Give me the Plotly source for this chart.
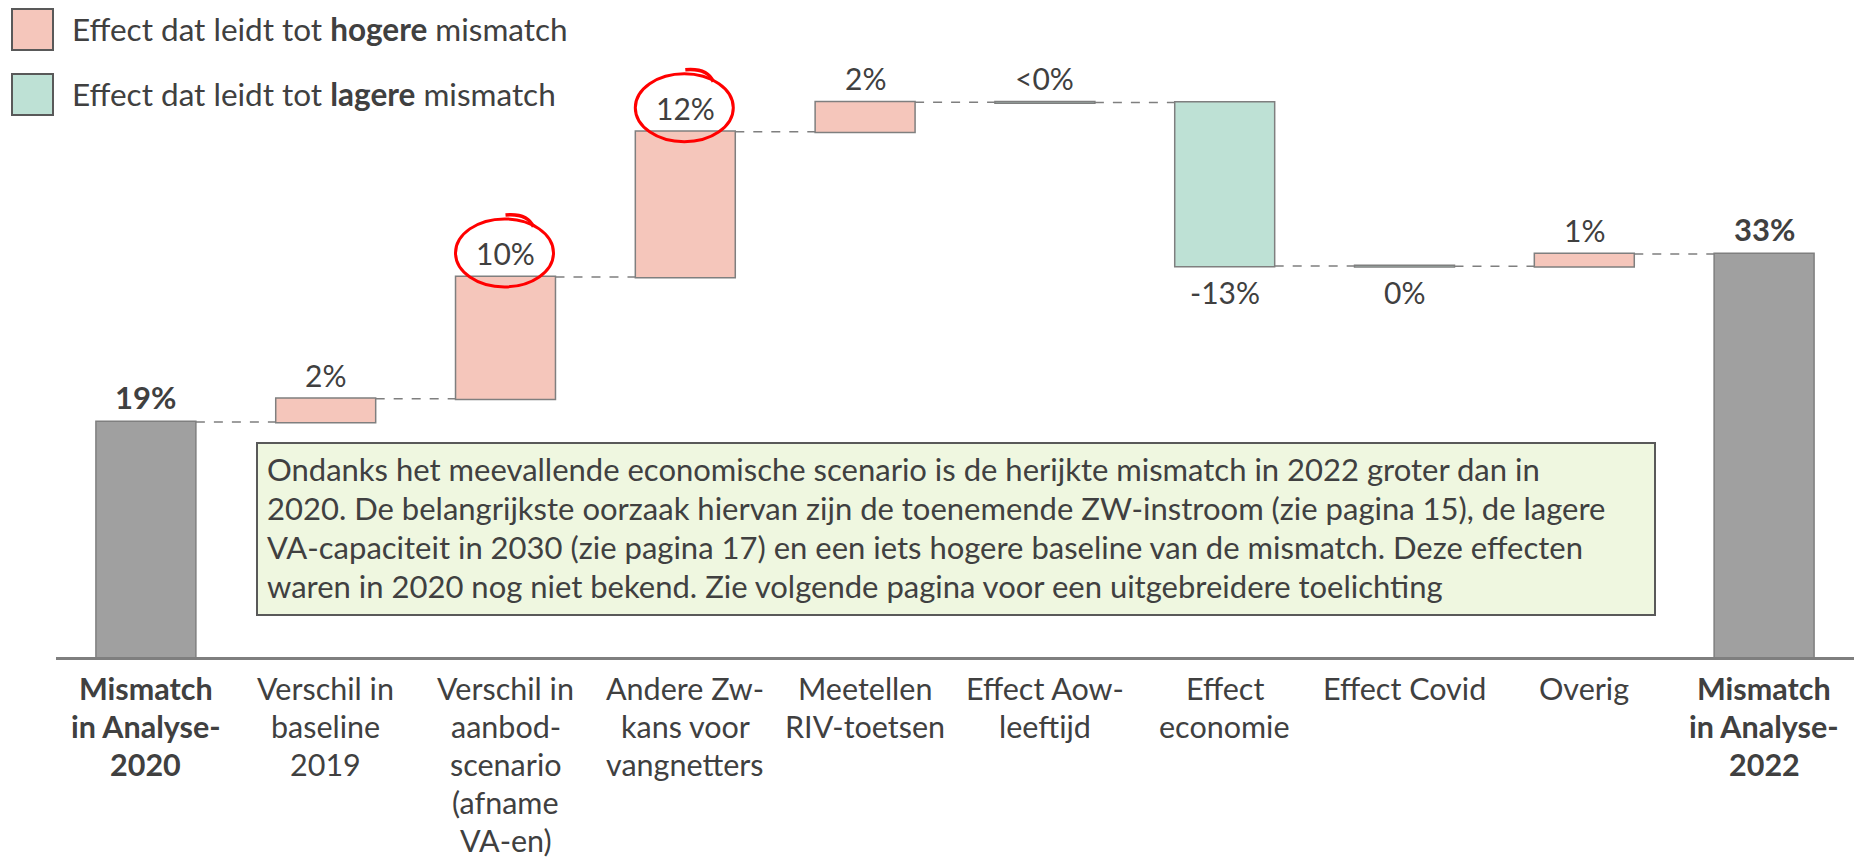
import plotly.graph_objects as go

# ---------------- data ----------------
categories = [
    "Mismatch in Analyse-2020",
    "Verschil in baseline 2019",
    "Verschil in aanbod-scenario (afname VA-en)",
    "Andere Zw-kans voor vangnetters",
    "Meetellen RIV-toetsen",
    "Effect Aow-leeftijd",
    "Effect economie",
    "Effect Covid",
    "Overig",
    "Mismatch in Analyse-2022",
]
tick_labels = [
    "Mismatch<br>in Analyse-<br>2020",
    "Verschil in<br>baseline<br>2019",
    "Verschil in<br>aanbod-<br>scenario<br>(afname<br>VA-en)",
    "Andere Zw-<br>kans voor<br>vangnetters",
    "Meetellen<br>RIV-toetsen",
    "Effect Aow-<br>leeftijd",
    "Effect<br>economie",
    "Effect Covid",
    "Overig",
    "Mismatch<br>in Analyse-<br>2022",
]
measures = ["absolute", "relative", "relative", "relative", "relative",
            "relative", "relative", "relative", "relative", "total"]
values = [19.1, 1.9, 9.9, 11.8, 2.4, -0.02, -13.3, -0.01, 1.0, 0]
value_labels = ["19%", "2%", "10%", "12%", "2%", "<0%", "-13%", "0%", "1%", "33%"]

legend_texts = [
    "Effect dat leidt tot <b>hogere</b> mismatch",
    "Effect dat leidt tot <b>lagere</b> mismatch",
]
note_lines = [
    "Ondanks het meevallende economische scenario is de herijkte mismatch in 2022 groter dan in",
    "2020. De belangrijkste oorzaak hiervan zijn de toenemende ZW-instroom (zie pagina 15), de lagere",
    "VA-capaciteit in 2030 (zie pagina 17) en een iets hogere baseline van de mismatch. Deze effecten",
    "waren in 2020 nog niet bekend. Zie volgende pagina voor een uitgebreidere toelichting",
]

# ---------------- style ----------------
FONT = "Lato"
TXT = "#404040"
PINK = "#F5C6BB"
GREEN = "#BEE1D5"
GRAY = "#A0A0A0"
OUTLINE = "#7F7F7F"
below_labels = {"Effect economie", "Effect Covid"}
highlighted = {"Verschil in aanbod-scenario (afname VA-en)", "Andere Zw-kans voor vangnetters"}

WIDTH, HEIGHT = 1855, 858
ML, MR, MT, MB = 56, 1, 42, 201
PW = WIDTH - ML - MR
PH = HEIGHT - MT - MB


def px_x(px):
    return (px - ML) / PW


def px_y(py):
    return (HEIGHT - MB - py) / PH


# cumulative levels
before, after = [], []
level = 0.0
for m, v in zip(measures, values):
    if m == "absolute":
        b, a = 0.0, v
        level = v
    elif m == "total":
        b, a = 0.0, level
    else:
        b, a = level, level + v
        level = a
    before.append(b)
    after.append(a)

fig = go.Figure()
fig.add_trace(go.Waterfall(
    x=categories,
    y=values,
    measure=measures,
    textposition="none",
    increasing=dict(marker=dict(color=PINK, line=dict(color=OUTLINE, width=1.5))),
    decreasing=dict(marker=dict(color=GREEN, line=dict(color=OUTLINE, width=1.5))),
    totals=dict(marker=dict(color=GRAY, line=dict(color=OUTLINE, width=1.5))),
    connector=dict(mode="between", line=dict(color=OUTLINE, width=1.5, dash="dash")),
    hoverinfo="skip",
    showlegend=False,
))

annotations = []
shapes = []

# value labels + highlight circles
for i, (cat, lab) in enumerate(zip(categories, value_labels)):
    is_total = measures[i] != "relative"
    txt = f"<b>{lab}</b>" if is_total else lab
    fsize = 31 if is_total else 30
    if cat in below_labels:
        y = min(before[i], after[i])
        annotations.append(dict(x=cat, y=y, xref="x", yref="y", text=txt, showarrow=False,
                                yanchor="top", yshift=-6, font=dict(family=FONT, size=fsize, color=TXT)))
    else:
        y = max(before[i], after[i])
        annotations.append(dict(x=cat, y=y, xref="x", yref="y", text=txt, showarrow=False,
                                yanchor="bottom", yshift=4, font=dict(family=FONT, size=fsize, color=TXT)))
    if cat in highlighted:
        top = max(before[i], after[i])
        shapes.append(dict(type="circle", xref="x", yref="y", xsizemode="pixel", ysizemode="pixel",
                           xanchor=i, yanchor=top, x0=-50, x1=48, y0=-10, y1=58,
                           line=dict(color="#FF0000", width=3)))
        shapes.append(dict(type="path", xref="x", yref="y", xsizemode="pixel", ysizemode="pixel",
                           xanchor=i, yanchor=top, path="M 0,62 Q 22,64 28,50",
                           line=dict(color="#FF0000", width=3.5)))

# category labels (one annotation per line for the wide line spacing)
LINE_GAP = 38.0
for i, (cat, lab) in enumerate(zip(categories, tick_labels)):
    bold = measures[i] != "relative"
    for k, line in enumerate(lab.split("<br>")):
        t = f"<b>{line}</b>" if bold else line
        annotations.append(dict(x=cat, y=px_y(688 + k * LINE_GAP), xref="x", yref="paper",
                                text=t, showarrow=False, xanchor="center", yanchor="middle",
                                font=dict(family=FONT, size=30.5, color=TXT)))

# legend
leg_colors = [PINK, GREEN]
leg_tops = [9, 74]
for col, top, txt in zip(leg_colors, leg_tops, legend_texts):
    shapes.append(dict(type="rect", xref="paper", yref="paper",
                       x0=px_x(12), x1=px_x(53), y0=px_y(top + 41), y1=px_y(top),
                       fillcolor=col, line=dict(color="#595959", width=2), layer="above"))
    annotations.append(dict(x=px_x(70), y=px_y(top + 20), xref="paper", yref="paper",
                            xanchor="left", yanchor="middle", text=txt, showarrow=False,
                            font=dict(family=FONT, size=31.5, color=TXT)))

# note box
shapes.append(dict(type="rect", xref="paper", yref="paper",
                   x0=px_x(257), x1=px_x(1655), y0=px_y(615), y1=px_y(443),
                   fillcolor="#EFF7E0", line=dict(color="#595959", width=2), layer="above"))
for k, line in enumerate(note_lines):
    annotations.append(dict(x=px_x(265), y=px_y(469 + k * 39.0), xref="paper", yref="paper",
                            xanchor="left", yanchor="middle", align="left",
                            text=line, showarrow=False,
                            font=dict(family=FONT, size=31, color=TXT)))

fig.update_layout(
    width=WIDTH, height=HEIGHT,
    margin=dict(l=ML, r=MR, t=MT, b=MB),
    paper_bgcolor="white", plot_bgcolor="white",
    waterfallgap=0.444,
    font=dict(family=FONT, size=30, color=TXT),
    xaxis=dict(
        range=[-0.5, 9.5], showline=True, linecolor=OUTLINE, linewidth=3,
        ticks="", showticklabels=False, showgrid=False, zeroline=False,
    ),
    yaxis=dict(range=[0, 50], visible=False, showgrid=False, zeroline=False),
    annotations=annotations,
    shapes=shapes,
    showlegend=False,
)

fig.write_html("out.html", config={"displayModeBar": False},
               post_script="document.body.style.margin='0';document.body.style.overflow='hidden';")
